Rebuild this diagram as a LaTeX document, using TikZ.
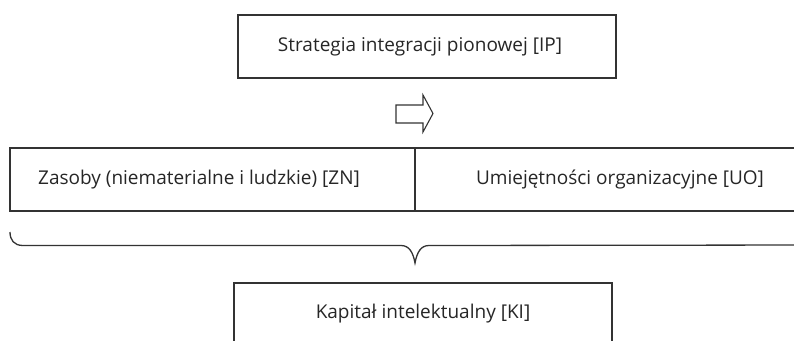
\documentclass[tikz,border=0pt]{standalone}
\usepackage{fontspec}
\setmainfont{Open Sans}
\begin{document}
\begin{tikzpicture}[x=1pt,y=-1pt,
  box/.style={draw=black!80, line width=1.3pt, rectangle, inner sep=0pt},
  lbl/.style={font=\fontsize{19}{22}\selectfont, text=black!85, inner sep=0pt},
  line/.style={draw=black!80, line width=1.3pt}]
\useasboundingbox (0,0) rectangle (794,340);
% top box
\node[box, minimum width=378pt, minimum height=63pt] (ip) at (427,46.5) {};
\node[lbl] (ipt) at (420,47) {Strategia integracji pionowej [IP]};
% block arrow
\draw[line, line width=1.1pt, line join=miter]
  (396,105) -- (423,105) -- (423,95) -- (433,113.5) -- (423,132) -- (423,123) -- (396,123) -- cycle;
% middle row
\node[box, minimum width=405pt, minimum height=63pt] (zn) at (212.5,179.5) {};
\node[box, minimum width=400pt, minimum height=63pt] (uo) at (615,179.5) {};
\node[lbl] (znt) at (199,180) {Zasoby (niematerialne i ludzkie) [ZN]};
\node[lbl] (uot) at (620,180) {Umiejętności organizacyjne [UO]};
% brace
\coordinate (bl) at (10,232);
\coordinate (bt) at (415,263);
\coordinate (br) at (820,245);
\draw[line] (bl) .. controls (10,240) and (14,245.5) .. (23,245.5) -- (401,245.5)
  .. controls (409,245.5) and (413,252) .. (bt)
  .. controls (417,252) and (421,245.5) .. (429,245.5) -- (br);
% bottom box
\node[box, minimum width=378pt, minimum height=80pt] (ki) at (423,323) {};
\node[lbl] (kit) at (423,314) {Kapitał intelektualny [KI]};
\end{tikzpicture}
\end{document}
